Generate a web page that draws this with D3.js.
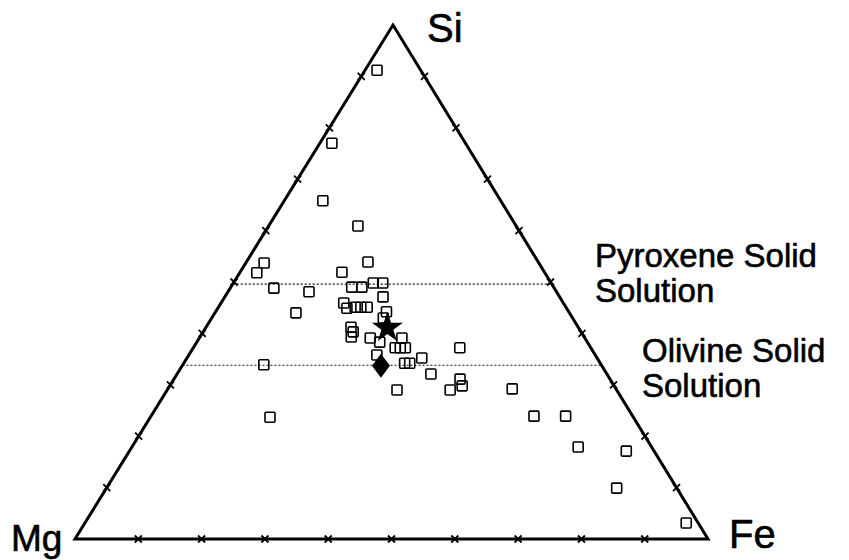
<!DOCTYPE html>
<html>
<head>
<meta charset="utf-8">
<script src="https://cdn.jsdelivr.net/npm/d3@7"></script>
<style>
  html, body { margin: 0; padding: 0; background: #fff; }
  svg { display: block; font-family: "Liberation Sans", Arial, Helvetica, sans-serif; }
</style>
</head>
<body>
<svg id="chart" width="849" height="560"></svg>
<script>
// ---- Data (ternary percentages; Mg = 100 - Si - Fe) ----
const sampleSi = [91.2, 77.0, 65.8, 60.9, 53.9, 53.7, 51.8, 51.9, 48.8, 48.1,
  49.0, 49.0, 49.8, 49.8, 47.1, 44.0, 45.9, 44.9, 45.1, 45.1,
  45.1, 44.2, 43.0, 41.2, 40.3, 39.3, 39.1, 38.3, 39.1, 37.2,
  37.2, 37.2, 37.2, 35.8, 34.2, 34.2, 35.2, 33.9, 32.1, 29.0,
  29.0, 29.8, 31.1, 23.7, 29.2, 23.9, 23.9, 17.9, 17.1, 9.9, 3.1];
const sampleFe = [1.9, 1.9, 6.1, 14.1, 19.2, 2.9, 2.7, 16.1, 6.9, 12.8,
  19.1, 20.7, 22.1, 23.6, 25.0, 12.8, 19.4, 20.4, 21.6, 22.5,
  23.5, 27.0, 27.1, 22.9, 23.7, 23.9, 27.0, 28.9, 32.0, 31.9,
  32.7, 33.5, 42.1, 29.7, 34.9, 35.7, 37.1, 12.8, 40.1, 36.3,
  44.7, 46.2, 45.2, 18.9, 54.4, 60.5, 65.5, 70.5, 78.5, 80.6, 95.0];
const starPoint = [{ si: 41.1, fe: 28.7 }];
const diamondPoint = [{ si: 33.7, fe: 31.4 }];
const tickValues = [10, 20, 30, 40, 50, 60, 70, 80, 90];
const phaseLines = [
  { si: 49.6, label: ["Pyroxene Solid", "Solution"] },
  { si: 33.8, label: ["Olivine Solid", "Solution"] }
];
const cornerLabels = ["Si", "Mg", "Fe"];

// ---- Scales ----
const corner = { mg: [75, 539], fe: [708, 539], si: [393, 25] };
const yScale = d3.scaleLinear().domain([0, 100]).range([corner.mg[1], corner.si[1]]);     // Si -> y
const feScale = d3.scaleLinear().domain([0, 100]).range([0, corner.fe[0] - corner.mg[0]]); // Fe -> x offset
const siShift = d3.scaleLinear().domain([0, 100]).range([0, corner.si[0] - corner.mg[0]]); // Si -> x offset
const px = (si, fe) => corner.mg[0] + feScale(fe) + siShift(si);
const py = (si) => yScale(si);

const svg = d3.select("#chart");

// Dotted phase lines (from left edge Fe=0 to right edge Mg=0)
svg.append("g").selectAll("line").data(phaseLines).join("line")
  .attr("x1", d => px(d.si, 0)).attr("y1", d => py(d.si))
  .attr("x2", d => px(d.si, 100 - d.si)).attr("y2", d => py(d.si))
  .attr("stroke", "#111").attr("stroke-width", 1.2)
  .attr("stroke-dasharray", "2,2");

// Triangle
svg.append("path")
  .attr("d", d3.line()([[px(0, 0), py(0)], [px(0, 100), py(0)], [px(100, 0), py(100)]]) + "Z")
  .attr("fill", "none").attr("stroke", "#000").attr("stroke-width", 3)
  .attr("stroke-linejoin", "miter");

// Ticks: little crosses on each edge
const tickPts = [];
tickValues.forEach(v => {
  tickPts.push([px(0, v), py(0)]);          // base (Mg-Fe)
  tickPts.push([px(v, 0), py(v)]);          // left (Mg-Si)
  tickPts.push([px(v, 100 - v), py(v)]);    // right (Fe-Si)
});
const tg = svg.append("g").attr("stroke", "#000").attr("stroke-width", 1.8);
tg.selectAll("path").data(tickPts).join("path")
  .attr("d", d => `M${d[0]-3.5},${d[1]-3.5}L${d[0]+3.5},${d[1]+3.5}M${d[0]-3.5},${d[1]+3.5}L${d[0]+3.5},${d[1]-3.5}`);

// Squares
const samples = sampleSi.map((s, i) => ({ si: s, fe: sampleFe[i] }));
svg.append("g").selectAll("rect").data(samples).join("rect")
  .attr("x", d => px(d.si, d.fe) - 5).attr("y", d => py(d.si) - 5)
  .attr("width", 10).attr("height", 10).attr("rx", 1)
  .attr("fill", "none").attr("stroke", "#000").attr("stroke-width", 1.6);

// Star
svg.append("g").selectAll("path").data(starPoint).join("path")
  .attr("d", d3.symbol().type(d3.symbolStar).size(300))
  .attr("transform", d => `translate(${px(d.si, d.fe)},${py(d.si)})`)
  .attr("fill", "#000");

// Diamond
svg.append("g").selectAll("path").data(diamondPoint).join("path")
  .attr("d", "M0,-12L9,0L0,12L-9,0Z")
  .attr("transform", d => `translate(${px(d.si, d.fe)},${py(d.si)})`)
  .attr("fill", "#000");

// Corner labels
const labelPos = [
  { t: cornerLabels[0], x: 427, y: 42, s: 40 },
  { t: cornerLabels[1], x: 11, y: 551, s: 37 },
  { t: cornerLabels[2], x: 729, y: 548, s: 40 }
];
svg.append("g").selectAll("text").data(labelPos).join("text")
  .attr("x", d => d.x).attr("y", d => d.y)
  .attr("font-size", d => d.s).attr("fill", "#000")
  .attr("stroke", "#000").attr("stroke-width", 0.6)
  .text(d => d.t);

// Phase annotations
const annX = [595, 642];
const annY = [267, 362];
phaseLines.forEach((p, i) => {
  const t = svg.append("text").attr("x", annX[i]).attr("y", annY[i])
    .attr("font-size", 33).attr("fill", "#000")
    .attr("stroke", "#000").attr("stroke-width", 0.6);
  p.label.forEach((line, j) => {
    t.append("tspan").attr("x", annX[i]).attr("dy", j === 0 ? 0 : 35).text(line);
  });
});
</script>
</body>
</html>
